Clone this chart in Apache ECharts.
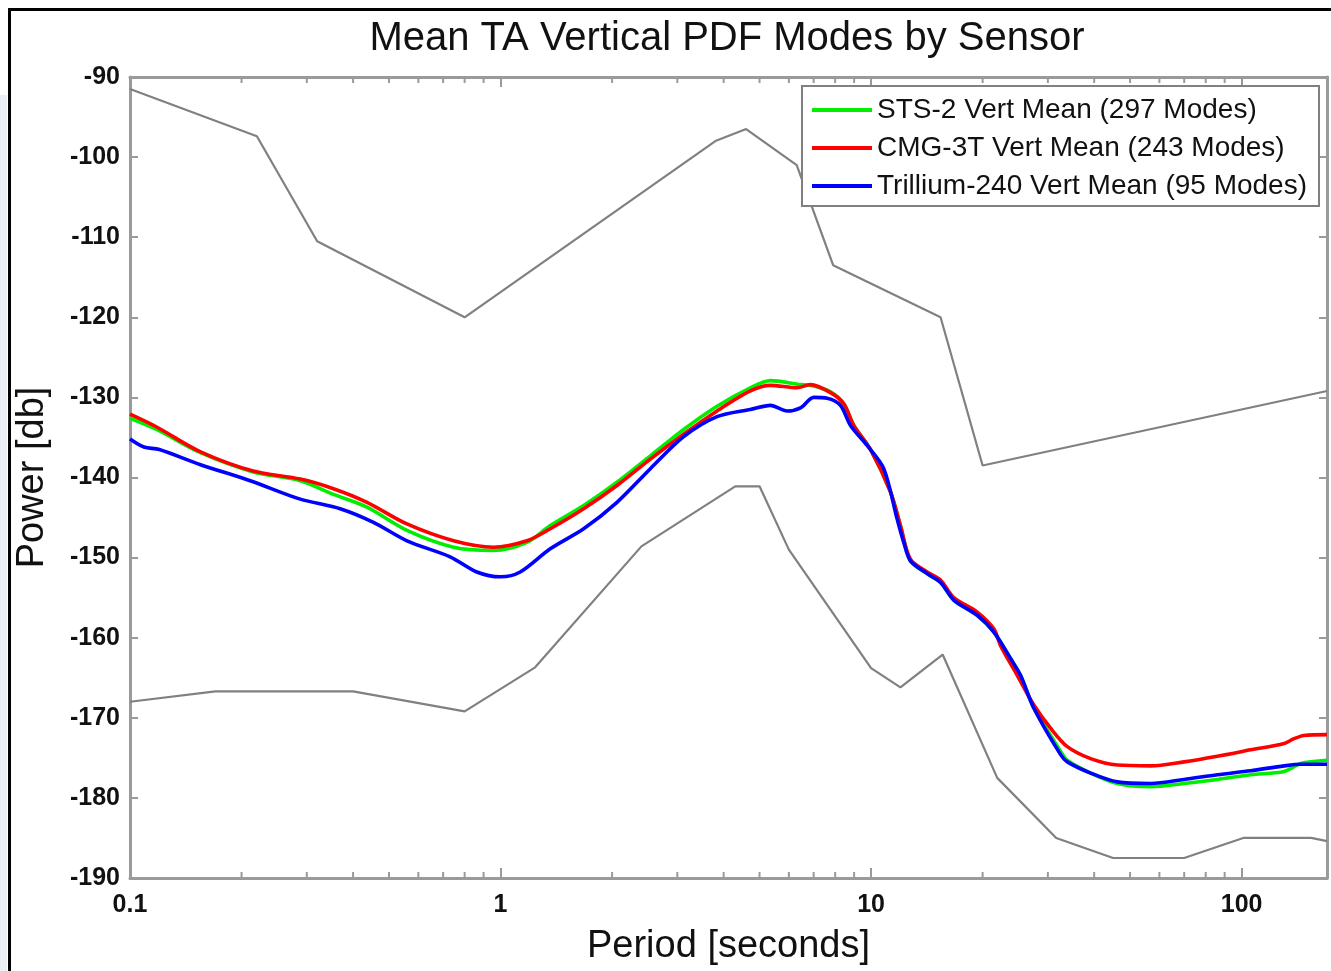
<!DOCTYPE html>
<html>
<head>
<meta charset="utf-8">
<title>Mean TA Vertical PDF Modes by Sensor</title>
<script src="https://cdn.jsdelivr.net/npm/echarts@6/dist/echarts.min.js"></script>
<style>
  html, body { margin: 0; padding: 0; background: #fff; }
  #chart { width: 1331px; height: 971px; }
</style>
</head>
<body>
<div id="chart"></div>
<script>
// period [s] / power [dB] pairs
const sts2Period = [0.1, 0.118, 0.155, 0.215, 0.288, 0.354, 0.436, 0.559, 0.747, 0.957, 1.178, 1.362, 1.676, 2.062, 2.537, 3.121, 3.84, 4.724, 5.35, 6.449, 6.861, 7.77, 8.44, 8.98, 9.96, 11.28, 12.0, 12.77, 14.17, 15.4, 16.72, 19.34, 21.45, 23.79, 25.31, 27.5, 30.51, 32.47, 33.85, 39.13, 46.19, 56.83, 69.92, 86.04, 105.8, 130.2, 144.4, 170];
const sts2Power = [-132.6, -134.0, -136.9, -139.3, -140.4, -142.1, -143.7, -146.6, -148.7, -149.1, -148.1, -146.0, -143.5, -140.6, -137.3, -134.0, -131.1, -128.8, -127.9, -128.4, -128.5, -129.3, -130.8, -133.5, -136.5, -141.8, -146.0, -150.4, -152.0, -153.1, -155.3, -157.2, -159.3, -162.6, -164.7, -168.8, -172.2, -174.2, -175.3, -176.9, -178.2, -178.6, -178.2, -177.7, -177.1, -176.7, -175.7, -175.3];

const cmgPeriod = [0.1, 0.118, 0.155, 0.215, 0.288, 0.354, 0.436, 0.559, 0.747, 0.957, 1.178, 1.362, 1.676, 2.062, 2.537, 3.121, 3.84, 4.724, 5.35, 6.316, 6.861, 7.77, 8.44, 8.98, 9.96, 11.28, 12.0, 12.77, 14.17, 15.4, 16.72, 19.34, 21.45, 22.36, 24.8, 27.5, 30.51, 33.85, 39.13, 46.19, 56.83, 69.92, 86.04, 105.8, 130.2, 138.5, 147.4, 170];
const cmgPower = [-132.1, -133.7, -136.8, -139.2, -140.2, -141.4, -143.1, -145.8, -147.9, -148.7, -147.9, -146.4, -143.9, -141.0, -137.7, -134.6, -131.7, -129.2, -128.5, -128.8, -128.4, -129.4, -130.8, -133.5, -136.5, -141.8, -146.0, -150.2, -151.8, -152.8, -155.0, -156.8, -158.9, -161.0, -164.7, -168.4, -171.3, -173.6, -175.1, -175.9, -176.0, -175.5, -174.8, -174.0, -173.2, -172.6, -172.2, -172.1];

const trilPeriod = [0.1, 0.109, 0.12, 0.155, 0.211, 0.288, 0.369, 0.454, 0.559, 0.731, 0.863, 1.0, 1.13, 1.362, 1.676, 2.062, 2.537, 3.121, 3.84, 4.724, 5.35, 5.935, 6.449, 7.003, 7.612, 8.266, 8.8, 9.76, 10.82, 11.76, 12.25, 12.77, 14.17, 15.4, 16.72, 19.34, 21.45, 23.79, 25.31, 27.5, 32.47, 33.85, 39.13, 46.19, 56.83, 69.92, 86.04, 105.8, 130.2, 144.4, 170];
const trilPower = [-135.2, -136.2, -136.5, -138.4, -140.4, -142.7, -143.9, -145.6, -147.9, -149.9, -151.8, -152.4, -151.8, -148.9, -146.4, -143.1, -138.9, -134.9, -132.4, -131.5, -131.0, -131.7, -131.3, -130.0, -130.1, -131.0, -133.5, -136.0, -138.9, -145.2, -148.1, -150.4, -152.0, -153.1, -155.3, -157.2, -159.3, -162.6, -164.7, -168.8, -174.6, -175.5, -176.9, -178.0, -178.2, -177.7, -177.1, -176.6, -176.0, -175.8, -175.8];

// grey noise model envelopes
const highPeriod = [0.1, 0.22, 0.32, 0.8, 3.8, 4.6, 6.3, 7.9, 15.4, 20, 170];
const highPower = [-91.5, -97.4, -110.5, -120.0, -98.0, -96.5, -101.0, -113.5, -120.0, -138.5, -129.2];
const lowPeriod = [0.1, 0.17, 0.4, 0.8, 1.24, 2.4, 4.3, 5.0, 6.0, 10, 12, 15.6, 21.9, 31.6, 45, 70, 101, 154, 170];
const lowPower = [-168.0, -166.7, -166.7, -169.2, -163.7, -148.6, -141.1, -141.1, -149.0, -163.8, -166.2, -162.1, -177.5, -185.0, -187.5, -187.5, -185.0, -185.0, -185.4];

const seriesNames = ['STS-2 Vert Mean (297 Modes)', 'CMG-3T Vert Mean (243 Modes)', 'Trillium-240 Vert Mean (95 Modes)'];
const minorTicks = [0.2, 0.3, 0.4, 0.5, 0.6, 0.7, 0.8, 0.9, 2, 3, 4, 5, 6, 7, 8, 9, 20, 30, 40, 50, 60, 70, 80, 90];

const FONT = "'Liberation Sans', Arial, Helvetica, sans-serif";
const AXIS_GREY = '#9a9a9a';

function pairs(xs, ys) {
  return xs.map((x, i) => [x, ys[i]]);
}

function meanLine(name, xs, ys, color) {
  return {
    name: name,
    type: 'line',
    data: pairs(xs, ys),
    symbol: 'none',
    smooth: 0.3,
    lineStyle: { color: color, width: 3.6 },
    itemStyle: { color: color }
  };
}

function modelLine(xs, ys) {
  return {
    type: 'line',
    data: pairs(xs, ys),
    symbol: 'none',
    silent: true,
    lineStyle: { color: '#808080', width: 2.2 },
    z: 1
  };
}

let chart = echarts.init(document.getElementById('chart'), null, { renderer: 'canvas' });

let option = {
  backgroundColor: '#fff',
  animation: false,
  textStyle: { fontFamily: FONT },
  title: {
    text: 'Mean TA Vertical PDF Modes by Sensor',
    left: 727,
    top: 19,
    textAlign: 'center',
    padding: 0,
    textStyle: { fontSize: 40, fontWeight: 'normal', color: '#111', fontFamily: FONT }
  },
  grid: { left: 130, top: 77, right: 4, bottom: 90 },
  legend: {
    data: seriesNames,
    orient: 'vertical',
    left: 802,
    top: 86,
    backgroundColor: '#fff',
    borderColor: '#808080',
    borderWidth: 2,
    padding: [9, 12, 5, 10],
    itemGap: 8,
    itemWidth: 60,
    itemHeight: 4,
    icon: 'rect',
    textStyle: { fontSize: 28, color: '#111', lineHeight: 30, fontFamily: FONT }
  },
  xAxis: [{
    type: 'log',
    logBase: 10,
    min: 0.1,
    max: 170,
    position: 'bottom',
    name: 'Period [seconds]',
    nameLocation: 'middle',
    nameGap: 50,
    nameTextStyle: { fontSize: 38, color: '#111', fontFamily: FONT },
    axisLine: { lineStyle: { color: AXIS_GREY, width: 3 } },
    axisTick: { inside: true, length: 10, lineStyle: { color: AXIS_GREY, width: 2 } },
    axisLabel: { fontSize: 25, fontWeight: 'bold', color: '#111', margin: 15, showMaxLabel: false, fontFamily: FONT },
    splitLine: { show: false }
  }, {
    type: 'log',
    logBase: 10,
    min: 0.1,
    max: 170,
    position: 'top',
    axisLine: { lineStyle: { color: AXIS_GREY, width: 3 } },
    axisTick: { inside: true, length: 10, lineStyle: { color: AXIS_GREY, width: 2 } },
    axisLabel: { show: false },
    splitLine: { show: false }
  }],
  yAxis: [{
    type: 'value',
    min: -190,
    max: -90,
    interval: 10,
    position: 'left',
    name: 'Power [db]',
    nameLocation: 'middle',
    nameGap: 78,
    nameRotate: 90,
    nameTextStyle: { fontSize: 38, color: '#111', fontFamily: FONT },
    axisLine: { show: true, lineStyle: { color: AXIS_GREY, width: 3 } },
    axisTick: { show: true, inside: true, length: 8, lineStyle: { color: AXIS_GREY, width: 2 } },
    axisLabel: { fontSize: 25, fontWeight: 'bold', color: '#111', margin: 10, fontFamily: FONT },
    splitLine: { show: false }
  }, {
    type: 'value',
    min: -190,
    max: -90,
    interval: 10,
    position: 'right',
    axisLine: { show: true, lineStyle: { color: AXIS_GREY, width: 3 } },
    axisTick: { show: true, inside: true, length: 8, lineStyle: { color: AXIS_GREY, width: 2 } },
    axisLabel: { show: false },
    splitLine: { show: false }
  }],
  graphic: [{
    type: 'rect',
    silent: true,
    shape: { x: 0, y: 95, width: 7, height: 900 },
    style: { fill: '#eceef6' }
  }, {
    type: 'rect',
    silent: true,
    z: 100,
    shape: { x: 9.5, y: 9.5, width: 1400, height: 1100 },
    style: { fill: 'none', stroke: '#000', lineWidth: 3 }
  }],
  series: [
    modelLine(highPeriod, highPower),
    modelLine(lowPeriod, lowPower),
    meanLine(seriesNames[0], sts2Period, sts2Power, '#00ee00'),
    meanLine(seriesNames[1], cmgPeriod, cmgPower, '#ff0000'),
    meanLine(seriesNames[2], trilPeriod, trilPower, '#0000ff'),
    {
      // minor log ticks, bottom and top
      type: 'custom',
      silent: true,
      clip: false,
      data: minorTicks.map(p => [p, -190]),
      renderItem: function (params, api) {
        const bot = api.coord([api.value(0), -190]);
        const top = api.coord([api.value(0), -90]);
        const st = { stroke: AXIS_GREY, lineWidth: 2 };
        return {
          type: 'group',
          children: [
            { type: 'line', shape: { x1: bot[0], y1: bot[1], x2: bot[0], y2: bot[1] - 6 }, style: st },
            { type: 'line', shape: { x1: top[0], y1: top[1], x2: top[0], y2: top[1] + 6 }, style: st }
          ]
        };
      }
    }
  ]
};

chart.setOption(option);
</script>
</body>
</html>
